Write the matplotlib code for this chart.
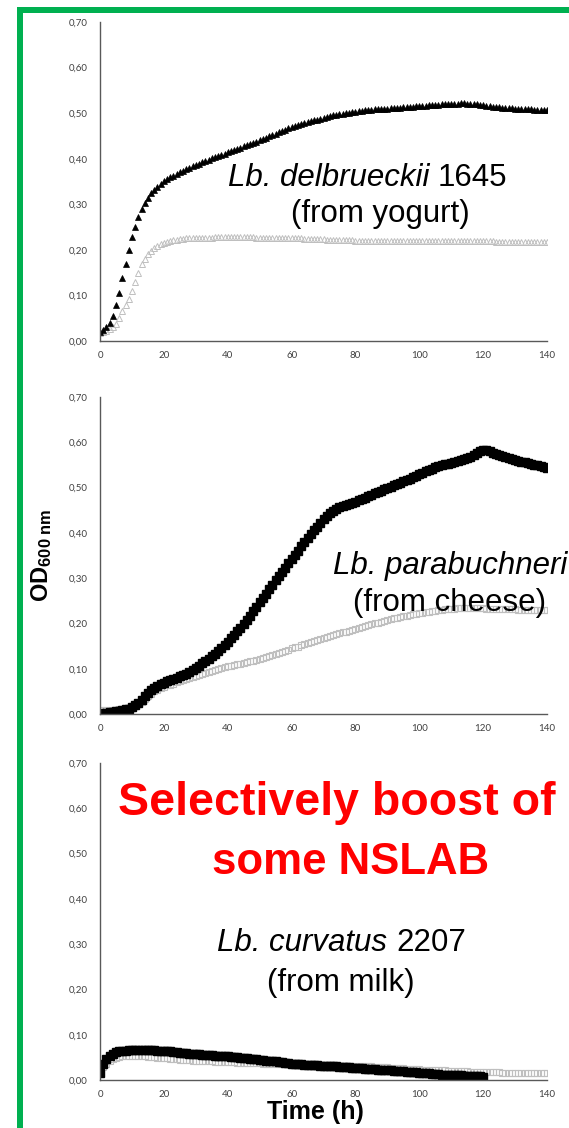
import numpy as np
import matplotlib
matplotlib.use("Agg")
import matplotlib.pyplot as plt
from matplotlib.patches import Rectangle
from matplotlib.ticker import FuncFormatter

plt.rcParams["mathtext.fontset"] = "custom"
plt.rcParams["mathtext.rm"] = "Liberation Sans"
plt.rcParams["mathtext.it"] = "Liberation Sans:italic"
plt.rcParams["mathtext.bf"] = "Liberation Sans:bold"

# time axis (h), one reading per hour
hours = np.arange(0, 141)
hours_short = np.arange(0, 121)

# Lb. delbrueckii 1645 (from yogurt)
delb_black = [
    0.020, 0.024, 0.030, 0.040, 0.055, 0.078, 0.105, 0.138, 0.170, 0.200, 0.228,
    0.250, 0.272, 0.290, 0.302, 0.314, 0.324, 0.332, 0.339, 0.345, 0.350,
    0.355, 0.359, 0.363, 0.367, 0.371, 0.374, 0.377, 0.380, 0.383, 0.386,
    0.389, 0.392, 0.395, 0.398, 0.401, 0.404, 0.406, 0.409, 0.411, 0.414,
    0.417, 0.419, 0.422, 0.424, 0.427, 0.429, 0.432, 0.434, 0.437, 0.440,
    0.443, 0.446, 0.449, 0.452, 0.455, 0.458, 0.461, 0.464, 0.467, 0.470,
    0.472, 0.474, 0.476, 0.478, 0.480, 0.482, 0.484, 0.486, 0.488, 0.490,
    0.492, 0.493, 0.495, 0.496, 0.498, 0.499, 0.500, 0.501, 0.502, 0.503,
    0.504, 0.505, 0.506, 0.507, 0.507, 0.508, 0.509, 0.509, 0.510, 0.510,
    0.511, 0.511, 0.512, 0.512, 0.513, 0.513, 0.514, 0.514, 0.515, 0.515,
    0.516, 0.516, 0.517, 0.517, 0.518, 0.518, 0.519, 0.519, 0.520, 0.520,
    0.521, 0.521, 0.522, 0.522, 0.521, 0.521, 0.520, 0.519, 0.518, 0.517,
    0.516, 0.515, 0.514, 0.514, 0.513, 0.512, 0.512, 0.511, 0.511, 0.510,
    0.510, 0.509, 0.509, 0.508, 0.508, 0.507, 0.507, 0.507, 0.506, 0.506,
]
delb_grey = [
    0.018, 0.020, 0.022, 0.026, 0.031, 0.038, 0.050, 0.066, 0.080, 0.093, 0.110,
    0.130, 0.150, 0.168, 0.181, 0.190, 0.197, 0.203, 0.208, 0.212, 0.215,
    0.217, 0.219, 0.221, 0.222, 0.223, 0.224, 0.225, 0.225, 0.226, 0.226,
    0.226, 0.227, 0.227, 0.227, 0.227, 0.228, 0.228, 0.228, 0.228, 0.228,
    0.228, 0.228, 0.228, 0.228, 0.228, 0.228, 0.228, 0.228, 0.227, 0.227,
    0.227, 0.227, 0.227, 0.227, 0.226, 0.226, 0.226, 0.226, 0.226, 0.225,
    0.225, 0.225, 0.225, 0.224, 0.224, 0.224, 0.224, 0.223, 0.223, 0.223,
    0.222, 0.222, 0.222, 0.222, 0.221, 0.221, 0.221, 0.221, 0.221, 0.220,
    0.220, 0.220, 0.220, 0.220, 0.220, 0.220, 0.220, 0.219, 0.219, 0.219,
    0.219, 0.219, 0.219, 0.219, 0.219, 0.219, 0.219, 0.219, 0.219, 0.219,
    0.219, 0.219, 0.219, 0.219, 0.219, 0.219, 0.219, 0.219, 0.219, 0.219,
    0.219, 0.219, 0.219, 0.219, 0.219, 0.219, 0.219, 0.219, 0.219, 0.219,
    0.219, 0.219, 0.219, 0.218, 0.218, 0.218, 0.218, 0.218, 0.218, 0.218,
    0.218, 0.218, 0.218, 0.218, 0.218, 0.218, 0.217, 0.217, 0.217, 0.217,
]

# Lb. parabuchneri (from cheese)
para_black = [
    0.001, 0.002, 0.003, 0.004, 0.005, 0.006, 0.007, 0.008, 0.010, 0.012, 0.015,
    0.019, 0.025, 0.032, 0.040, 0.047, 0.053, 0.058, 0.062, 0.066, 0.069,
    0.072, 0.075, 0.077, 0.080, 0.083, 0.086, 0.089, 0.093, 0.097, 0.102,
    0.107, 0.112, 0.117, 0.122, 0.127, 0.133, 0.139, 0.145, 0.152, 0.160,
    0.167, 0.175, 0.183, 0.191, 0.199, 0.208, 0.217, 0.227, 0.237, 0.247,
    0.257, 0.266, 0.276, 0.285, 0.295, 0.304, 0.314, 0.323, 0.333, 0.343,
    0.352, 0.361, 0.370, 0.379, 0.388, 0.397, 0.406, 0.414, 0.422, 0.430,
    0.437, 0.443, 0.448, 0.452, 0.456, 0.459, 0.462, 0.464, 0.467, 0.469,
    0.472, 0.475, 0.478, 0.481, 0.484, 0.487, 0.490, 0.493, 0.496, 0.499,
    0.502, 0.505, 0.508, 0.511, 0.514, 0.517, 0.520, 0.523, 0.526, 0.530,
    0.533, 0.536, 0.539, 0.542, 0.545, 0.547, 0.549, 0.551, 0.553, 0.555,
    0.557, 0.559, 0.561, 0.563, 0.565, 0.567, 0.571, 0.576, 0.580, 0.582,
    0.582, 0.580, 0.577, 0.574, 0.571, 0.569, 0.567, 0.565, 0.563, 0.561,
    0.559, 0.557, 0.556, 0.554, 0.552, 0.550, 0.549, 0.547, 0.545, 0.544,
]
para_grey = [
    0.008, 0.008, 0.008, 0.008, 0.009, 0.009, 0.010, 0.010, 0.011, 0.012, 0.014,
    0.018, 0.022, 0.027, 0.033, 0.040, 0.045, 0.050, 0.054, 0.057, 0.060,
    0.063, 0.065, 0.067, 0.070, 0.072, 0.075, 0.077, 0.080, 0.082, 0.085,
    0.087, 0.089, 0.091, 0.093, 0.095, 0.097, 0.099, 0.101, 0.103, 0.105,
    0.107, 0.108, 0.110, 0.111, 0.113, 0.115, 0.116, 0.118, 0.120, 0.122,
    0.124, 0.126, 0.128, 0.130, 0.133, 0.135, 0.137, 0.140, 0.142, 0.145,
    0.147, 0.149, 0.152, 0.154, 0.157, 0.159, 0.161, 0.163, 0.166, 0.168,
    0.170, 0.172, 0.174, 0.176, 0.178, 0.180, 0.182, 0.184, 0.186, 0.188,
    0.190, 0.192, 0.194, 0.196, 0.198, 0.200, 0.202, 0.204, 0.206, 0.208,
    0.210, 0.211, 0.213, 0.215, 0.216, 0.217, 0.219, 0.220, 0.221, 0.223,
    0.224, 0.225, 0.226, 0.227, 0.228, 0.229, 0.230, 0.231, 0.231, 0.232,
    0.232, 0.233, 0.233, 0.233, 0.233, 0.233, 0.233, 0.233, 0.233, 0.233,
    0.232, 0.232, 0.232, 0.232, 0.232, 0.231, 0.231, 0.231, 0.231, 0.231,
    0.230, 0.230, 0.230, 0.230, 0.230, 0.230, 0.229, 0.229, 0.229, 0.229,
]

# Lb. curvatus 2207 (from milk) - black series stops at 120 h
curv_black = [
    0.015, 0.035, 0.047, 0.054, 0.058, 0.061, 0.063, 0.064, 0.065, 0.066, 0.066,
    0.067, 0.067, 0.067, 0.067, 0.067, 0.066, 0.066, 0.065, 0.065, 0.064,
    0.063, 0.063, 0.062, 0.061, 0.060, 0.060, 0.059, 0.058, 0.058, 0.057,
    0.057, 0.056, 0.056, 0.055, 0.055, 0.054, 0.054, 0.053, 0.053, 0.052,
    0.051, 0.051, 0.050, 0.049, 0.048, 0.048, 0.047, 0.046, 0.046, 0.045,
    0.044, 0.043, 0.042, 0.042, 0.041, 0.040, 0.039, 0.038, 0.037, 0.036,
    0.036, 0.035, 0.035, 0.034, 0.034, 0.034, 0.033, 0.033, 0.032, 0.032,
    0.031, 0.031, 0.030, 0.030, 0.029, 0.029, 0.028, 0.028, 0.027, 0.027,
    0.026, 0.026, 0.025, 0.025, 0.024, 0.024, 0.023, 0.023, 0.022, 0.021,
    0.021, 0.020, 0.020, 0.019, 0.019, 0.018, 0.018, 0.017, 0.017, 0.016,
    0.016, 0.015, 0.015, 0.014, 0.013, 0.013, 0.012, 0.012, 0.011, 0.011,
    0.010, 0.010, 0.010, 0.009, 0.009, 0.009, 0.008, 0.008, 0.008, 0.007,
]
curv_grey = [
    0.018, 0.028, 0.036, 0.042, 0.046, 0.049, 0.051, 0.052, 0.053, 0.053, 0.053,
    0.053, 0.053, 0.052, 0.052, 0.051, 0.050, 0.050, 0.049, 0.049, 0.048,
    0.048, 0.047, 0.047, 0.046, 0.045, 0.045, 0.044, 0.044, 0.043, 0.043,
    0.042, 0.042, 0.042, 0.041, 0.041, 0.040, 0.040, 0.040, 0.039, 0.039,
    0.039, 0.039, 0.038, 0.038, 0.038, 0.038, 0.037, 0.037, 0.037, 0.037,
    0.036, 0.036, 0.036, 0.036, 0.036, 0.035, 0.035, 0.035, 0.035, 0.035,
    0.034, 0.034, 0.034, 0.034, 0.034, 0.033, 0.033, 0.033, 0.033, 0.033,
    0.032, 0.032, 0.032, 0.032, 0.032, 0.031, 0.031, 0.031, 0.031, 0.031,
    0.030, 0.030, 0.030, 0.030, 0.030, 0.029, 0.029, 0.028, 0.028, 0.028,
    0.027, 0.027, 0.026, 0.026, 0.026, 0.025, 0.025, 0.024, 0.024, 0.024,
    0.023, 0.023, 0.022, 0.022, 0.022, 0.021, 0.021, 0.021, 0.020, 0.020,
    0.020, 0.019, 0.019, 0.019, 0.019, 0.018, 0.018, 0.018, 0.018, 0.018,
    0.017, 0.017, 0.017, 0.017, 0.017, 0.016, 0.016, 0.016, 0.016, 0.016,
    0.016, 0.015, 0.015, 0.015, 0.015, 0.015, 0.015, 0.015, 0.015, 0.015,
]

y_ticks = [0.0, 0.1, 0.2, 0.3, 0.4, 0.5, 0.6, 0.7]
x_ticks = [0, 20, 40, 60, 80, 100, 120, 140]

W, H = 569, 1128
fig = plt.figure(figsize=(W / 100, H / 100), dpi=100)


def px(x, y):
    return x / W, 1 - y / H


def make_axes(top, bottom):
    ax = fig.add_axes([100 / W, 1 - bottom / H, 447 / W, (bottom - top) / H])
    ax.set_xlim(0, 140)
    ax.set_ylim(0, 0.7)
    ax.set_xticks(x_ticks)
    ax.set_yticks(y_ticks)
    ax.yaxis.set_major_formatter(FuncFormatter(lambda v, p: f"{v:.2f}".replace(".", ",")))
    ax.tick_params(length=0, labelsize=7, colors="#404040", pad=9)
    ax.tick_params(axis="x", pad=7)
    for lab in ax.get_xticklabels() + ax.get_yticklabels():
        lab.set_family("Lato")
    for s in ["top", "right"]:
        ax.spines[s].set_visible(False)
    for s in ["left", "bottom"]:
        ax.spines[s].set_color("#595959")
        ax.spines[s].set_linewidth(1)
    return ax


grey = "#bfbfbf"

ax1 = make_axes(22, 341)
ax1.plot(hours, delb_grey, ls="none", marker="^", ms=5, mfc="none", mec=grey, mew=0.7)
ax1.plot(hours, delb_black, ls="none", marker="^", ms=5, mfc="black", mec="black", mew=0.5)

ax2 = make_axes(397, 714)
ax2.plot(hours, para_grey, ls="none", marker="s", ms=5, mfc="none", mec=grey, mew=0.8)
ax2.plot(hours, para_black, ls="none", marker="s", ms=6, mfc="black", mec="black", mew=1)

ax3 = make_axes(763, 1080)
ax3.plot(hours, curv_grey, ls="none", marker="s", ms=5, mfc="none", mec=grey, mew=0.8)
ax3.plot(hours_short, curv_black, ls="none", marker="s", ms=6, mfc="black", mec="black", mew=1)

# strain labels: italic species name, upright strain number
txt = dict(fontsize=22.5, family="Liberation Sans", va="center", color="black")
fig.text(*px(429, 178), "Lb. delbrueckii", ha="right", style="italic", **txt)
fig.text(*px(438, 178), "1645", ha="left", **txt)
fig.text(*px(380, 214), "(from yogurt)", ha="center", **txt)
fig.text(*px(333, 566), "Lb. parabuchneri", ha="left", style="italic", **txt)
fig.text(*px(450, 603), "(from cheese)", ha="center", **txt)
fig.text(*px(387, 943), "Lb. curvatus", ha="right", style="italic", **txt)
fig.text(*px(396, 943), "2207", ha="left", **txt)
fig.text(*px(341, 983), "(from milk)", ha="center", **txt)

red = dict(family="Liberation Sans", weight="bold", color="#ff0000", va="center", ha="center")
fig.text(*px(337, 803), "Selectively boost of", fontsize=33.5, **red)
fig.text(*px(351, 862), "some NSLAB", fontsize=31.5, **red)

fig.text(*px(42, 555), r"$\mathbf{OD}_{\mathbf{600\ nm}}$", rotation=90, fontsize=17,
         ha="center", va="center")
fig.text(*px(315, 1112), "Time (h)", fontsize=18, weight="bold", family="Liberation Sans",
         ha="center", va="center")

# green frame on top and left
green = "#00b050"
fig.patches.append(Rectangle(px(17, 13), (W - 17) / W, 6 / H, transform=fig.transFigure,
                             color=green, lw=0))
fig.patches.append(Rectangle(px(17, H), 6 / W, (H - 7) / H, transform=fig.transFigure,
                             color=green, lw=0))

fig.savefig("out.png", dpi=100)
